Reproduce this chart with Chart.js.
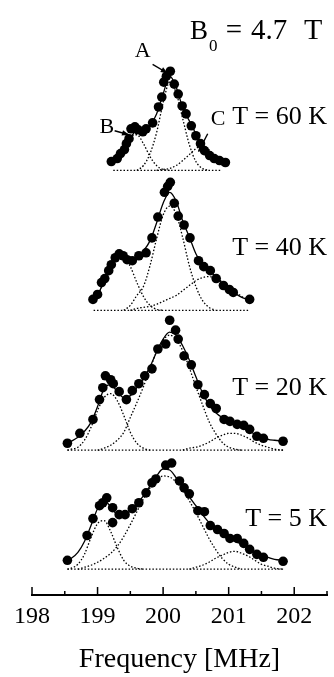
<!DOCTYPE html>
<html>
<head>
<meta charset="utf-8">
<script src="https://cdn.jsdelivr.net/npm/chart.js@4.4.1/dist/chart.umd.min.js"></script>
<style>
  html, body { margin: 0; padding: 0; background: #fff; }
</style>
</head>
<body>
<canvas id="chart" width="334" height="677"></canvas>
<script>
"use strict";

// NMR line shapes at B0 = 4.7 T, stacked by temperature (intensity in arbitrary units)

const FONT = '"Liberation Serif", "Times New Roman", serif';

// vertical offset of each trace (same units as intensity)
const temps = ["60", "40", "20", "5"];
const offsets = [428, 287, 146, 26];

// ---- measured points ----
const freq60 = [199.21, 199.30, 199.35, 199.41, 199.44, 199.48, 199.51, 199.57, 199.62, 199.69, 199.74, 199.84, 199.93, 199.98, 200.01, 200.05, 200.11, 200.17, 200.23, 200.29, 200.35, 200.43, 200.50, 200.57, 200.63, 200.71, 200.78, 200.86, 200.95];
const int60 = [9, 12, 17, 21, 27, 32, 42, 44, 41, 39, 42, 48, 64, 74, 89, 95, 100, 87, 77, 65, 57, 45, 35, 27, 20, 15, 12, 10, 8];

const freq40 = [198.93, 199.00, 199.06, 199.11, 199.17, 199.21, 199.27, 199.33, 199.39, 199.45, 199.53, 199.63, 199.74, 199.83, 199.92, 200.02, 200.07, 200.11, 200.17, 200.23, 200.32, 200.41, 200.54, 200.62, 200.72, 200.81, 200.92, 201.01, 201.07, 201.32];
const int40 = [11, 16, 28, 32, 40, 46, 53, 57, 55, 51, 50, 55, 58, 73, 94, 119, 125, 129, 108, 95, 86, 73, 50, 44, 40, 32, 25, 21, 18, 11];

const freq20 = [198.54, 198.73, 198.93, 199.03, 199.08, 199.12, 199.20, 199.24, 199.33, 199.44, 199.53, 199.63, 199.72, 199.83, 199.92, 200.04, 200.10, 200.19, 200.23, 200.32, 200.43, 200.53, 200.63, 200.72, 200.81, 200.93, 201.02, 201.13, 201.23, 201.32, 201.43, 201.53, 201.83];
const int20 = [7, 17, 31, 51, 63, 75, 71, 67, 59, 51, 60, 67, 75, 82, 102, 107, 131, 121, 112, 95, 86, 66, 56, 47, 42, 31, 29, 26, 25, 21, 14, 12, 9];

const freq5 = [198.54, 198.84, 198.93, 199.03, 199.08, 199.14, 199.23, 199.23, 199.33, 199.42, 199.53, 199.63, 199.74, 199.83, 199.89, 200.04, 200.13, 200.25, 200.32, 200.40, 200.53, 200.63, 200.72, 200.83, 200.93, 201.02, 201.13, 201.23, 201.32, 201.43, 201.53, 201.83];
const int5 = [9, 34, 51, 64, 67, 72, 62, 47, 55, 55, 61, 67, 77, 87, 91, 105, 107, 89, 82, 76, 59, 58, 44, 40, 36, 31, 31, 26, 20, 15, 12, 8];

// ---- fitted curves (total fit and the three lines B, A, C), read on a 0.1 MHz grid ----
const grid60 = [199.24, 199.3, 199.4, 199.5, 199.6, 199.7, 199.8, 199.9, 200.0, 200.1, 200.2, 200.3, 200.4, 200.5, 200.6, 200.7, 200.8, 200.9];
const fit60 = [8, 13, 22, 33, 40, 40, 45, 57, 77, 95, 84, 63, 50, 37, 26, 18, 12, 7];
const lineB60 = [7, 12, 23, 34, 36, 27, 14, 5, 1, 0, null, null, null, null, null, null, null, null];
const lineA60 = [null, null, null, null, 0, 5, 17, 38, 68, 89, 78, 52, 26, 9, 2, 0, null, null];
const lineC60 = [null, null, null, null, null, null, null, 0, 1, 2, 5, 10, 16, 22, 25, 21, 13, 5];

const grid40 = [198.94, 199.0, 199.1, 199.2, 199.3, 199.4, 199.5, 199.6, 199.7, 199.8, 199.9, 200.0, 200.1, 200.2, 200.3, 200.4, 200.5, 200.6, 200.7, 200.8, 200.9, 201.0, 201.1, 201.2, 201.3];
const fit40 = [11, 15, 30, 44, 55, 54, 50, 54, 60, 70, 88, 108, 119, 110, 90, 74, 57, 46, 40, 34, 27, 21, 17, 13, 11];
const lineB40 = [11, 15, 29, 43, 53, 54, 44, 28, 14, 5, 1, 0, null, null, null, null, null, null, null, null, null, null, null, null, null];
const lineA40 = [null, null, null, null, null, 0, 5, 15, 24, 45, 72, 96, 105, 97, 73, 45, 24, 10, 3, 0, null, null, null, null, null];
const lineC40 = [null, null, null, null, null, null, 0, 2, 3, 4, 6, 9, 12, 15, 20, 25, 30, 33, 34, 32, 29, 25, 19, 14, 10];

const grid20 = [198.54, 198.6, 198.7, 198.8, 198.9, 199.0, 199.1, 199.2, 199.3, 199.4, 199.5, 199.6, 199.7, 199.8, 199.9, 200.0, 200.1, 200.2, 200.3, 200.4, 200.5, 200.6, 200.7, 200.8, 200.9, 201.0, 201.1, 201.2, 201.3, 201.4, 201.5, 201.6, 201.7, 201.83];
const fit20 = [7, 9, 13, 19, 28, 44, 62, 66, 59, 53, 55, 63, 72, 84, 99, 112, 119, 116, 105, 91, 74, 58, 46, 38, 33, 30, 27, 24, 20, 16, 13, 11, 10, 9];
const lineB20 = [0, 1, 3, 10, 23, 40, 53, 57, 50, 35, 18, 7, 2, 0, null, null, null, null, null, null, null, null, null, null, null, null, null, null, null, null, null, null, null, null];
const lineA20 = [null, null, null, null, null, 0, 2, 5, 10, 18, 33, 48, 64, 82, 99, 111, 116, 112, 100, 83, 64, 46, 29, 17, 8, 3, 1, 0, null, null, null, null, null, null];
const lineC20 = [null, null, null, null, null, null, null, null, null, null, null, null, null, null, null, null, null, null, 0, 2, 3, 5, 8, 12, 15, 17, 17, 15, 12, 8, 5, 3, 1, 0];

const grid5 = grid20;
const fit5 = [9, 11, 17, 28, 44, 61, 69, 63, 55, 54, 59, 66, 74, 84, 94, 101, 100, 92, 83, 73, 64, 55, 47, 40, 35, 31, 28, 25, 21, 17, 14, 12, 10, 9];
const lineB5 = [0, 1, 5, 15, 32, 46, 49, 38, 22, 9, 3, 1, 0, null, null, null, null, null, null, null, null, null, null, null, null, null, null, null, null, null, null, null, null, null];
const lineA5 = [null, null, 0, 2, 4, 7, 11, 16, 23, 33, 45, 58, 71, 82, 90, 94, 93, 88, 80, 69, 57, 44, 31, 20, 11, 5, 2, 0, null, null, null, null, null, null];
const lineC5 = [null, null, null, null, null, null, null, null, null, null, null, null, null, null, null, null, null, null, null, 0, 2, 4, 7, 11, 14, 17, 18, 16, 13, 9, 5, 3, 1, 0];

// ---- axis ----
const xMin = 198;
const xMax = 202.5;
const xStep = 0.5;

// ---- annotations (freq, level in stacked units) ----
const peakNames = ["A", "B", "C"];
const peakNameFreq = [199.69, 199.14, 200.84];
const peakNameLevel = [542, 466, 474];
const arrowFrom = [[199.84, 535], [199.26, 468], [200.68, 465]];
const arrowTo = [[200.07, 526], [199.48, 464], [200.54, 447]];

// ---- datasets ----
function series(xs, ys, off) {
  return xs.map((x, i) => ({ x, y: ys[i] === null ? null : off + ys[i] }));
}

const DOT = [1.5, 1.9];
const traces = [
  [freq60, int60, grid60, fit60, lineB60, lineA60, lineC60],
  [freq40, int40, grid40, fit40, lineB40, lineA40, lineC40],
  [freq20, int20, grid20, fit20, lineB20, lineA20, lineC20],
  [freq5, int5, grid5, fit5, lineB5, lineA5, lineC5],
];

const datasets = [];
traces.forEach(([fq, iv, grid, fit, lb, la, lc], k) => {
  const off = offsets[k];
  datasets.push({
    label: `T = ${temps[k]} K data`, data: series(fq, iv, off), showLine: false,
    pointRadius: 4.8, pointBackgroundColor: "#000", pointBorderWidth: 0, order: 0,
  });
  datasets.push({
    label: "fit", data: series(grid, fit, off), showLine: true, pointRadius: 0,
    borderColor: "#000", borderWidth: 1.3, cubicInterpolationMode: "monotone", order: 1,
  });
  for (const comp of [lb, la, lc]) {
    datasets.push({
      label: "line", data: series(grid, comp, off), showLine: true, pointRadius: 0, spanGaps: false,
      borderColor: "#000", borderWidth: 1.3, borderDash: DOT, cubicInterpolationMode: "monotone", order: 2,
    });
  }
  datasets.push({
    label: "baseline", data: series([grid[0], grid[grid.length - 1]], [0, 0], off), showLine: true,
    pointRadius: 0, borderColor: "#000", borderWidth: 1.3, borderDash: DOT, order: 2,
  });
});

// ---- plugin: inward ticks, labels, arrows ----
const decor = {
  id: "decor",
  afterDraw(chart) {
    const { ctx, scales: { x, y }, chartArea } = chart;
    const px = (f, v) => [x.getPixelForValue(f), y.getPixelForValue(v)];
    ctx.save();
    ctx.strokeStyle = "#000";
    ctx.fillStyle = "#000";

    // ticks pointing up from the axis
    ctx.lineWidth = 1.5;
    ctx.beginPath();
    for (const t of x.ticks) {
      const p = x.getPixelForValue(t.value);
      const len = Number.isInteger(t.value) ? 8 : 4;
      ctx.moveTo(p, chartArea.bottom);
      ctx.lineTo(p, chartArea.bottom - len);
    }
    ctx.stroke();

    // temperatures
    ctx.textBaseline = "alphabetic";
    ctx.textAlign = "right";
    ctx.font = `26px ${FONT}`;
    const tLevels = [475, 343, 202, 70];
    temps.forEach((t, k) => {
      const [tx, ty] = px(xMax, tLevels[k]);
      ctx.fillText(`T = ${t} K`, tx, ty);
    });

    // B0 = 4.7 T
    const [bx, by] = px(200.41, 561);
    ctx.textAlign = "left";
    ctx.font = `27px ${FONT}`;
    ctx.fillText("B", bx, by);
    ctx.font = `17px ${FONT}`;
    ctx.fillText("0", bx + 19, by + 12);
    ctx.font = `29px ${FONT}`;
    ctx.textAlign = "center";
    ctx.fillText("=", bx + 44, by);
    ctx.textAlign = "left";
    ctx.fillText("4.7", bx + 61, by);
    ctx.font = `30px ${FONT}`;
    ctx.fillText("T", bx + 114, by);

    // peak names and arrows
    ctx.font = `22px ${FONT}`;
    ctx.textAlign = "center";
    peakNames.forEach((n, i) => {
      const [lx, ly] = px(peakNameFreq[i], peakNameLevel[i]);
      ctx.fillText(n, lx, ly);
      const [x1, y1] = px(arrowFrom[i][0], arrowFrom[i][1]);
      const [x2, y2] = px(arrowTo[i][0], arrowTo[i][1]);
      ctx.lineWidth = 1.4;
      ctx.beginPath();
      ctx.moveTo(x1, y1);
      ctx.lineTo(x2, y2);
      ctx.stroke();
      const a = Math.atan2(y2 - y1, x2 - x1);
      ctx.beginPath();
      ctx.moveTo(x2, y2);
      ctx.lineTo(x2 - 7 * Math.cos(a) + 2.8 * Math.sin(a), y2 - 7 * Math.sin(a) - 2.8 * Math.cos(a));
      ctx.lineTo(x2 - 7 * Math.cos(a) - 2.8 * Math.sin(a), y2 - 7 * Math.sin(a) + 2.8 * Math.cos(a));
      ctx.closePath();
      ctx.fill();
    });
    ctx.restore();
  },
};

new Chart(document.getElementById("chart"), {
  type: "scatter",
  data: { datasets },
  options: {
    responsive: false,
    animation: false,
    layout: { padding: { left: 32, right: 1, top: 0, bottom: 0 } },
    plugins: { legend: { display: false }, tooltip: { enabled: false } },
    scales: {
      x: {
        type: "linear",
        min: xMin,
        max: xMax,
        grid: { display: false, drawTicks: false },
        border: { display: true, color: "#000", width: 2 },
        ticks: {
          stepSize: xStep,
          autoSkip: false,
          maxRotation: 0,
          padding: 7,
          color: "#000",
          font: { family: FONT, size: 24 },
          callback: (v) => (Number.isInteger(v) ? String(v) : ""),
        },
        title: {
          display: true,
          text: "Frequency [MHz]",
          color: "#000",
          font: { family: FONT, size: 28 },
          padding: { top: 0, bottom: 1 },
        },
        afterFit: (s) => { s.height = 82; },
      },
      y: { display: false, min: 0, max: 595 },
    },
  },
  plugins: [decor],
});
</script>
</body>
</html>
